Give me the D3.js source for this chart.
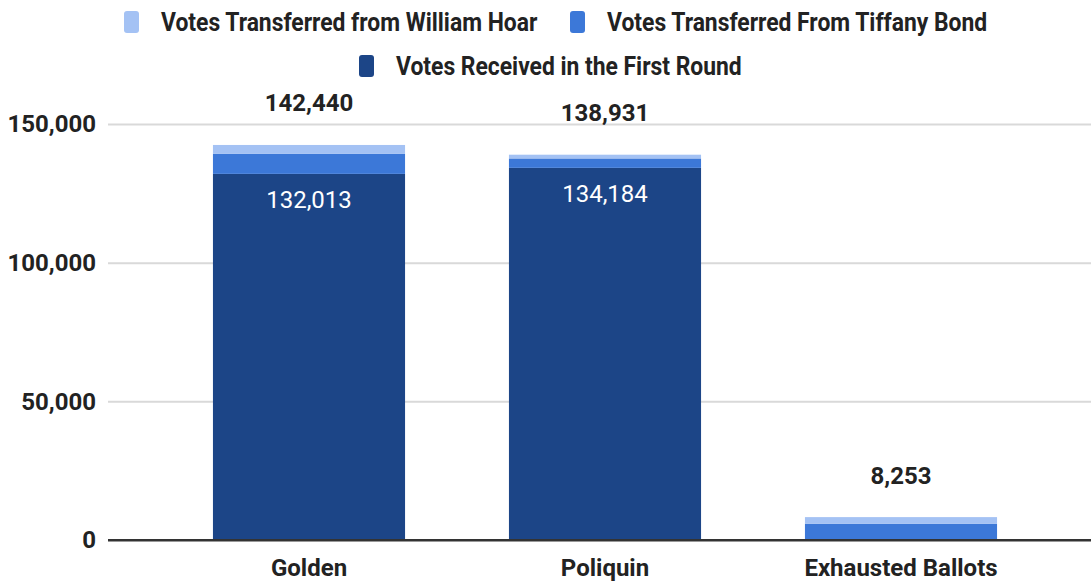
<!DOCTYPE html>
<html>
<head>
<meta charset="utf-8">
<script src="https://cdnjs.cloudflare.com/ajax/libs/d3/7.8.5/d3.min.js"></script>
<style>
  body { margin: 0; background: #fff; }
  text { font-family: Roboto, "Noto Sans", sans-serif; }
</style>
</head>
<body>
<div id="chart"></div>
<script>
var categories = ["Golden", "Poliquin", "Exhausted Ballots"];
var firstRound = [132013, 134184, 0];
var fromBond = [7200, 3400, 5900];
var fromHoar = [3227, 1347, 2353];
var totals = [142440, 138931, 8253];
var seriesNames = ["Votes Received in the First Round", "Votes Transferred From Tiffany Bond", "Votes Transferred from William Hoar"];
var seriesColors = ["#1c4587", "#3c78d8", "#a4c2f4"];
var yTicks = [0, 50000, 100000, 150000];

function init()
{
    var w = 1091;
    var h = 581;
    var fmt = d3.format(",");

    var svg = d3.select("#chart")
                .append("svg")
                .attr("width", w)
                .attr("height", h);

    var x = d3.scaleBand()
              .domain(categories)
              .range([161, 1049])
              .paddingInner(0.351)
              .paddingOuter(0.1755);

    var y = d3.scaleLinear()
              .domain([0, 150000])
              .range([540, 124]);

    // gridlines + y labels
    var yAxis = d3.axisLeft(y)
                  .tickValues(yTicks)
                  .tickFormat(fmt)
                  .tickSize(-(w - 108))
                  .tickPadding(12);

    var gy = svg.append("g")
                .attr("transform", "translate(108,0)")
                .call(yAxis);
    gy.select(".domain").remove();
    gy.selectAll(".tick line")
      .attr("stroke", function(d) { return d === 0 ? "#333" : "#d9d9d9"; })
      .attr("stroke-width", 2);
    gy.selectAll(".tick text")
      .attr("fill", "#222")
      .style("font-size", "24px")
      .style("font-weight", "bold");

    var table = categories.map(function(c, i) {
        return { cat: c, first: firstRound[i], bond: fromBond[i], hoar: fromHoar[i] };
    });
    var stack = d3.stack().keys(["first", "bond", "hoar"]);
    var layers = stack(table);

    svg.append("g")
       .selectAll("g")
       .data(layers)
       .enter()
       .append("g")
       .attr("fill", function(d, i) { return seriesColors[i]; })
       .selectAll("rect")
       .data(function(d) { return d; })
       .enter()
       .append("rect")
       .attr("x", function(d) { return x(d.data.cat); })
       .attr("y", function(d) { return y(d[1]); })
       .attr("width", x.bandwidth())
       .attr("height", function(d) { return y(d[0]) - y(d[1]); });

    // redraw baseline on top of bars
    svg.append("line")
       .attr("x1", 108).attr("x2", w)
       .attr("y1", y(0)).attr("y2", y(0))
       .attr("stroke", "#333")
       .attr("stroke-width", 2);

    // totals above bars
    svg.selectAll(".total")
       .data(categories)
       .enter()
       .append("text")
       .attr("class", "total")
       .attr("x", function(d) { return x(d) + x.bandwidth() / 2; })
       .attr("y", function(d, i) { return y(totals[i]) - 42; })
       .attr("dy", "0.35em")
       .attr("text-anchor", "middle")
       .attr("fill", "#222")
       .style("font-size", "24px")
       .style("font-weight", "bold")
       .text(function(d, i) { return fmt(totals[i]); });

    // first round labels inside bars
    svg.selectAll(".inner")
       .data(categories.filter(function(d, i) { return firstRound[i] > 0; }))
       .enter()
       .append("text")
       .attr("class", "inner")
       .attr("x", function(d) { return x(d) + x.bandwidth() / 2; })
       .attr("y", function(d) { return y(firstRound[categories.indexOf(d)]) + 26; })
       .attr("dy", "0.35em")
       .attr("text-anchor", "middle")
       .attr("fill", "#fff")
       .style("font-size", "24px")
       .text(function(d) { return fmt(firstRound[categories.indexOf(d)]); });

    // x labels
    svg.selectAll(".xlab")
       .data(categories)
       .enter()
       .append("text")
       .attr("class", "xlab")
       .attr("x", function(d) { return x(d) + x.bandwidth() / 2; })
       .attr("y", 568)
       .attr("dy", "0.35em")
       .attr("text-anchor", "middle")
       .attr("fill", "#222")
       .style("font-size", "24px")
       .style("font-weight", "bold")
       .text(function(d) { return d; });

    // legend
    var legendRows = [
        [{ name: seriesNames[2], color: seriesColors[2], x: 124 }, { name: seriesNames[1], color: seriesColors[1], x: 570 }],
        [{ name: seriesNames[0], color: seriesColors[0], x: 359 }]
    ];
    legendRows.forEach(function(row, r) {
        var g = svg.append("g").attr("transform", "translate(0," + (22 + r * 44) + ")");
        var items = g.selectAll("g").data(row).enter().append("g")
                     .attr("transform", function(d) { return "translate(" + d.x + ",0)"; });
        items.append("rect")
             .attr("x", 0).attr("y", -11)
             .attr("width", 15).attr("height", 22)
             .attr("rx", 3)
             .attr("fill", function(d) { return d.color; });
        items.append("text")
             .attr("transform", "translate(37,0) scale(0.88,1)")
             .attr("dy", "0.35em")
             .attr("fill", "#222")
             .style("font-size", "26px")
             .style("font-weight", "bold")
             .text(function(d) { return d.name; });
    });
}
window.onload = init;
</script>
</body>
</html>
